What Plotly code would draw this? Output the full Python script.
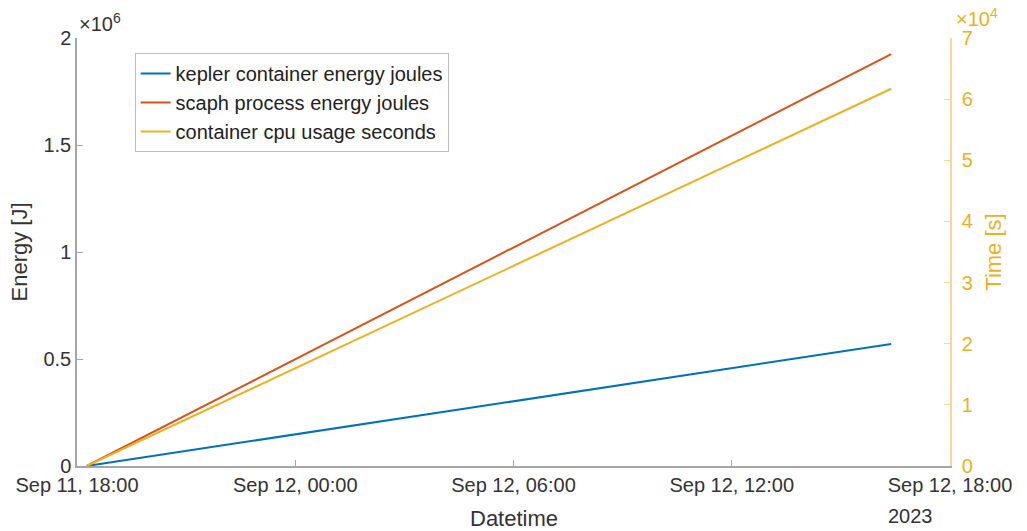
import plotly.graph_objects as go

# Series sampled at the start and end of the run
times = ["2023-09-11 18:16", "2023-09-12 16:23"]
kepler_joules = [0, 5.70e5]
scaph_joules = [0, 1.925e6]
cpu_seconds = [0, 6.17e4]

x_ticks = ["2023-09-11 18:00", "2023-09-12 00:00", "2023-09-12 06:00",
           "2023-09-12 12:00", "2023-09-12 18:00"]
x_tick_text = ["Sep 11, 18:00", "Sep 12, 00:00", "Sep 12, 06:00",
               "Sep 12, 12:00", "Sep 12, 18:00"]
left_ticks = [0, 0.5e6, 1e6, 1.5e6, 2e6]
left_tick_text = ["0", "0.5", "1", "1.5", "2"]
right_ticks = [0, 1e4, 2e4, 3e4, 4e4, 5e4, 6e4, 7e4]
right_tick_text = ["0", "1", "2", "3", "4", "5", "6", "7"]

BLUE = "#0072BD"
ORANGE = "#D95319"
YELLOW = "#EDB120"
TEXT = "#333333"
AXIS = "#A6A6A6"
FONT = "Liberation Sans, Arial, sans-serif"
TICK_SIZE = 20
LABEL_SIZE = 22

fig = go.Figure()
fig.add_trace(go.Scatter(x=times, y=kepler_joules, mode="lines",
                         name="kepler container energy joules",
                         line=dict(color=BLUE, width=2)))
fig.add_trace(go.Scatter(x=times, y=scaph_joules, mode="lines",
                         name="scaph process energy joules",
                         line=dict(color=ORANGE, width=2)))
fig.add_trace(go.Scatter(x=times, y=cpu_seconds, mode="lines",
                         name="container cpu usage seconds",
                         line=dict(color=YELLOW, width=2), yaxis="y2"))

fig.update_layout(
    width=1027, height=531,
    margin=dict(l=77, r=77, t=38, b=65),
    paper_bgcolor="white", plot_bgcolor="white",
    font=dict(family=FONT, size=TICK_SIZE, color=TEXT),
    xaxis=dict(
        type="date",
        range=["2023-09-11 18:00", "2023-09-12 18:00"],
        tickvals=x_ticks, ticktext=x_tick_text,
        ticks="inside", ticklen=6, tickcolor=AXIS,
        showline=True, linecolor=AXIS, linewidth=1.5,
        showgrid=False, zeroline=False, automargin=False,
        tickfont=dict(size=TICK_SIZE),
    ),
    yaxis=dict(
        range=[0, 2e6],
        tickvals=left_ticks, ticktext=left_tick_text,
        ticks="inside", ticklen=6, tickcolor=AXIS,
        showline=True, linecolor=AXIS, linewidth=1.5,
        showgrid=False, zeroline=False,
        tickfont=dict(size=TICK_SIZE),
        title=dict(text="Energy [J]", standoff=10,
                   font=dict(size=LABEL_SIZE, color=TEXT)),
    ),
    yaxis2=dict(
        overlaying="y", side="right",
        range=[0, 7e4],
        tickvals=right_ticks, ticktext=right_tick_text,
        ticks="inside", ticklen=6, tickcolor="#F6D998",
        showline=True, linecolor="#F6D998", linewidth=1.5,
        showgrid=False, zeroline=False,
        ticklabelstandoff=6,
        tickfont=dict(size=TICK_SIZE, color=YELLOW),
        title=dict(text="Time [s]", standoff=14,
                   font=dict(size=LABEL_SIZE, color=YELLOW)),
    ),
    legend=dict(
        x=0.066, y=0.965, xanchor="left", yanchor="top",
        bgcolor="white", bordercolor="#BDBDBD", borderwidth=1,
        font=dict(size=TICK_SIZE, color="#222222"),
        tracegroupgap=0,
    ),
    showlegend=True,
)

# X axis title
fig.add_annotation(xref="paper", yref="paper", x=0.5, y=0,
                   xanchor="center", yanchor="top", showarrow=False,
                   yshift=-38, text="Datetime",
                   font=dict(size=LABEL_SIZE, color=TEXT))
# Exponent labels for the scaled y axes
fig.add_annotation(xref="paper", yref="paper", x=0, y=1, xanchor="left",
                   yanchor="bottom", showarrow=False, xshift=0, yshift=1,
                   text="×10<sup>6</sup>", font=dict(size=TICK_SIZE, color=TEXT))
fig.add_annotation(xref="paper", yref="paper", x=1, y=1, xanchor="left",
                   yanchor="bottom", showarrow=False, xshift=4, yshift=6,
                   text="×10<sup>4</sup>", font=dict(size=TICK_SIZE, color=YELLOW))
# Year marker under the last date tick
fig.add_annotation(xref="x", yref="paper", x="2023-09-12 18:00", y=0,
                   xanchor="left", yanchor="top", showarrow=False,
                   xshift=-64, yshift=-37, text="2023",
                   font=dict(size=TICK_SIZE, color=TEXT))

fig.write_html("out.html")
